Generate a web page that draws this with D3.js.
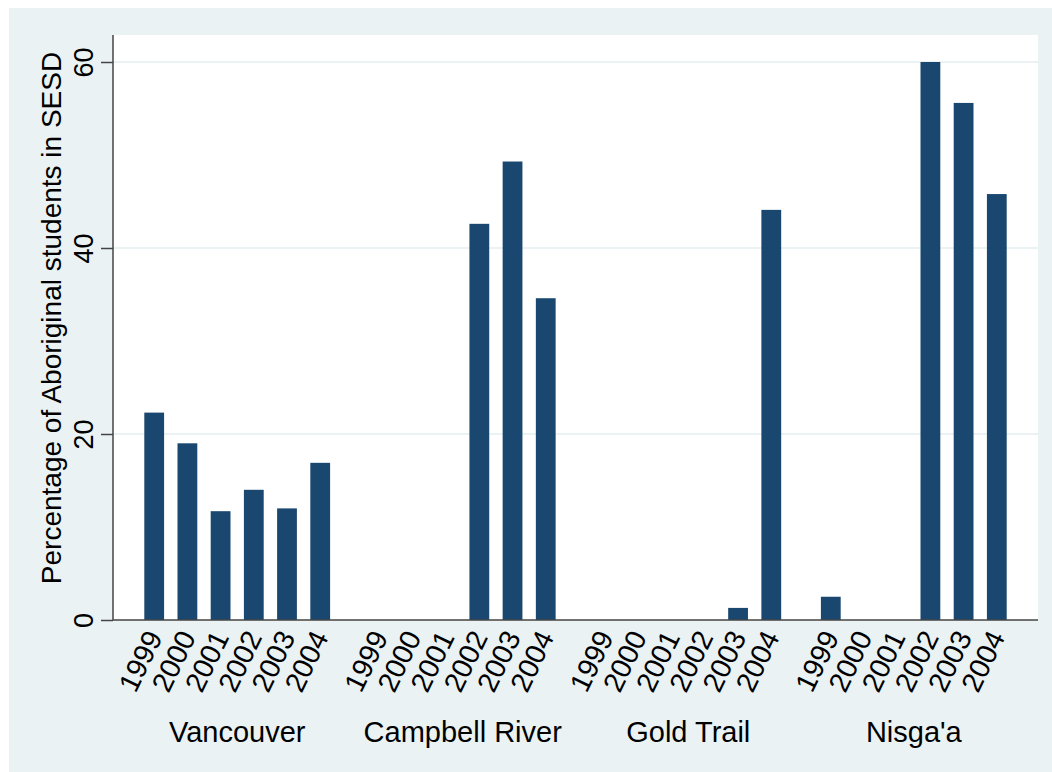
<!DOCTYPE html>
<html>
<head>
<meta charset="utf-8">
<script src="https://cdn.jsdelivr.net/npm/d3@7"></script>
<style>
  body { margin: 0; background: #ffffff; }
  text { font-family: "Liberation Sans", Arial, sans-serif; fill: #000; }
</style>
</head>
<body>
<script>
var districts = ["Vancouver", "Campbell River", "Gold Trail", "Nisga'a"];
var years = ["1999", "2000", "2001", "2002", "2003", "2004"];

// percentage of aboriginal students in SESD, one array per district (year order above)
var vancouver = [22.3, 19.0, 11.7, 14.0, 12.0, 16.9];
var campbellRiver = [0, 0, 0, 42.6, 49.3, 34.6];
var goldTrail = [0, 0, 0, 0, 1.3, 44.1];
var nisgaa = [2.5, 0, 0, 60.0, 55.6, 45.8];

var yTicks = [0, 20, 40, 60];

var w = 1052;
var h = 772;
var plot = {left: 113, right: 1038, top: 35, bottom: 620};

var series = [vancouver, campbellRiver, goldTrail, nisgaa];
var data = [];
districts.forEach(function(d, i){
  years.forEach(function(y, j){
    data.push({District: d, Year: y, Value: series[i][j]});
  });
});

var svg = d3.select("body")
  .append("svg")
  .attr("width", w)
  .attr("height", h);

// outer light background
svg.append("rect")
  .attr("x", 9).attr("y", 8)
  .attr("width", w - 9).attr("height", h - 8)
  .attr("fill", "#eaf2f3");

// plot region
svg.append("rect")
  .attr("x", plot.left).attr("y", plot.top)
  .attr("width", plot.right - plot.left)
  .attr("height", plot.bottom - plot.top)
  .attr("fill", "#ffffff");

var groupScale = d3.scaleBand()
  .domain(districts)
  .range([plot.left, plot.right])
  .paddingInner(0.0878)
  .paddingOuter(0.0946);

var yearScale = d3.scaleBand()
  .domain(years)
  .range([0, groupScale.bandwidth()])
  .paddingInner(0.404)
  .paddingOuter(0.3);

var yScale = d3.scaleLinear()
  .domain([0, 60])
  .range([plot.bottom, 62]);

// grid lines
svg.selectAll("line.grid")
  .data(yTicks.slice(1))
  .enter().append("line")
  .attr("class", "grid")
  .attr("x1", plot.left)
  .attr("x2", plot.right)
  .attr("y1", function(d){ return yScale(d); })
  .attr("y2", function(d){ return yScale(d); })
  .attr("stroke", "#eaf2f3")
  .attr("stroke-width", 2);

// bars
svg.selectAll("rect.bar")
  .data(data)
  .enter().append("rect")
  .attr("class", "bar")
  .attr("x", function(d){ return groupScale(d.District) + yearScale(d.Year); })
  .attr("width", yearScale.bandwidth())
  .attr("y", function(d){ return yScale(d.Value); })
  .attr("height", function(d){ return plot.bottom - yScale(d.Value); })
  .attr("fill", "#1a476f");

// y axis
var yAxis = d3.axisLeft(yScale)
  .tickValues(yTicks)
  .tickSize(12)
  .tickPadding(0)
  .tickFormat(d3.format("d"));

var gy = svg.append("g")
  .attr("transform", "translate(" + plot.left + ",0)")
  .call(yAxis);

gy.select(".domain")
  .attr("d", "M0," + plot.top + "V" + plot.bottom)
  .attr("stroke", "#444")
  .attr("stroke-width", 1.5);
gy.selectAll(".tick line").attr("stroke", "#444").attr("stroke-width", 1.5);
gy.selectAll(".tick text")
  .attr("x", null).attr("dy", null)
  .attr("text-anchor", "middle")
  .attr("transform", "translate(-20,0) rotate(-90)")
  .style("font-size", "27px");

// x axis line
svg.append("line")
  .attr("x1", plot.left).attr("x2", plot.right)
  .attr("y1", plot.bottom).attr("y2", plot.bottom)
  .attr("stroke", "#444")
  .attr("stroke-width", 1.5);

// year labels
svg.selectAll("text.year")
  .data(data)
  .enter().append("text")
  .attr("class", "year")
  .attr("text-anchor", "end")
  .attr("transform", function(d){
    var cx = groupScale(d.District) + yearScale(d.Year) + yearScale.bandwidth() / 2;
    return "translate(" + (cx + 9) + ",637) rotate(-64)";
  })
  .style("font-size", "28.5px")
  .text(function(d){ return d.Year; });

// district labels
svg.selectAll("text.district")
  .data(districts)
  .enter().append("text")
  .attr("class", "district")
  .attr("text-anchor", "middle")
  .attr("x", function(d){ return groupScale(d) + groupScale.bandwidth() / 2; })
  .attr("y", 742)
  .style("font-size", "29px")
  .text(function(d){ return d; });

// y title
svg.append("text")
  .attr("text-anchor", "middle")
  .attr("transform", "translate(61,318) rotate(-90)")
  .style("font-size", "28px")
  .text("Percentage of Aboriginal students in SESD");
</script>
</body>
</html>
